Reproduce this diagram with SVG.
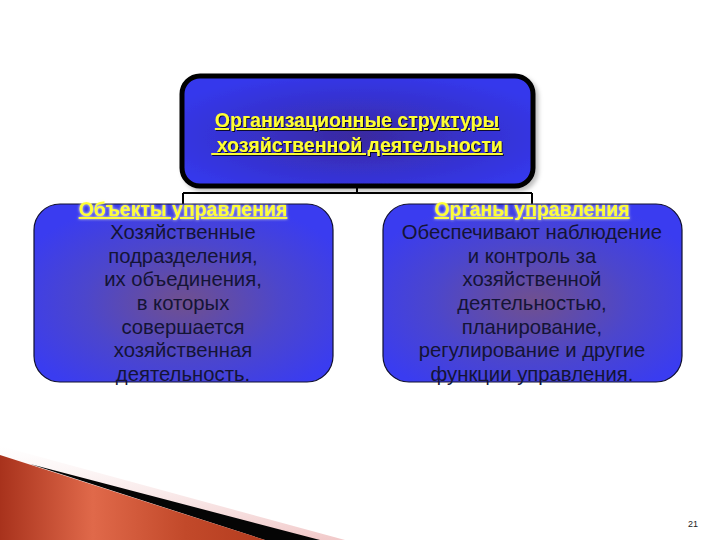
<svg xmlns="http://www.w3.org/2000/svg" width="720" height="540" viewBox="0 0 720 540">
<defs>
<radialGradient id="gBox" cx="50%" cy="55%" r="60%">
<stop offset="0" stop-color="#70508e"/>
<stop offset="0.55" stop-color="#4c46cc"/>
<stop offset="1" stop-color="#3a3cf0"/>
</radialGradient>
<radialGradient id="gTop" cx="50%" cy="55%" r="60%">
<stop offset="0" stop-color="#3a2a9e"/>
<stop offset="0.6" stop-color="#3632d2"/>
<stop offset="1" stop-color="#3538ec"/>
</radialGradient>
<linearGradient id="gRed" x1="0" y1="0" x2="1" y2="0">
<stop offset="0" stop-color="#a8321c"/>
<stop offset="0.35" stop-color="#e0694a"/>
<stop offset="0.7" stop-color="#c2492a"/>
<stop offset="1" stop-color="#b43c1e"/>
</linearGradient>
<linearGradient id="gPink" x1="0" y1="0" x2="0" y2="1">
<stop offset="0" stop-color="#f4d8d8" stop-opacity="0"/>
<stop offset="1" stop-color="#eebcbc" stop-opacity="0.8"/>
</linearGradient>
<filter id="shTop" x="-10%" y="-10%" width="125%" height="130%">
<feDropShadow dx="3" dy="3" stdDeviation="2" flood-color="#000" flood-opacity="0.25"/>
</filter>
<filter id="txtSh" x="-5%" y="-20%" width="110%" height="150%">
<feDropShadow dx="1" dy="1" stdDeviation="0.4" flood-color="#000" flood-opacity="0.8"/>
</filter>
<filter id="glow" x="-10%" y="-40%" width="120%" height="180%">
<feDropShadow dx="0" dy="0" stdDeviation="1.5" flood-color="#ffffcc" flood-opacity="0.9"/>
</filter>
</defs>
<style>
.ttl{font-family:"Liberation Sans",Arial,sans-serif;font-weight:bold;font-size:19.5px;fill:#ffff33;text-decoration:underline;text-anchor:middle}
.body{font-family:"Liberation Sans",Arial,sans-serif;font-size:20.3px;fill:#141436;text-anchor:middle}
.box{fill:url(#gBox);stroke:#101030;stroke-width:1.2}
.conn{fill:none;stroke:#000;stroke-width:2}
</style>
<rect width="720" height="540" fill="#fff"/>
<g id="decor">
<polygon points="0,446 345,540 0,540" fill="url(#gPink)"/>
<polygon points="30,464 320,540 265,540" fill="#050505"/>
<polygon points="0,455 265,540 0,540" fill="url(#gRed)"/>
</g>
<g id="connectors">
<path class="conn" d="M357,187 V193 M183,193 H532 M183,193 V206 M532,193 V206"/>
</g>
<g id="top">
<rect x="182" y="76" width="351" height="110" rx="18" fill="url(#gTop)" stroke="#000" stroke-width="5" filter="url(#shTop)"/>
<text class="ttl" x="357" y="127" filter="url(#txtSh)">Организационные структуры</text>
<text class="ttl" x="357" y="152" filter="url(#txtSh)" xml:space="preserve"> хозяйственной деятельности</text>
</g>
<g id="left">
<rect class="box" x="34" y="204" width="299" height="178" rx="26"/>
<text class="ttl" x="183" y="216" filter="url(#glow)">Объекты управления</text>
<text class="body" x="183"><tspan x="183" y="239">Хозяйственные</tspan><tspan x="183" y="263">подразделения,</tspan><tspan x="183" y="286">их объединения,</tspan><tspan x="183" y="310">в которых</tspan><tspan x="183" y="334">совершается</tspan><tspan x="183" y="357">хозяйственная</tspan><tspan x="183" y="381">деятельность.</tspan></text>
</g>
<g id="right">
<rect class="box" x="383" y="204" width="299" height="178" rx="26"/>
<text class="ttl" x="532" y="216" filter="url(#glow)">Органы управления</text>
<text class="body" x="532"><tspan x="532" y="239">Обеспечивают наблюдение</tspan><tspan x="532" y="263">и контроль за</tspan><tspan x="532" y="286">хозяйственной</tspan><tspan x="532" y="310">деятельностью,</tspan><tspan x="532" y="334">планирование,</tspan><tspan x="532" y="357">регулирование и другие</tspan><tspan x="532" y="381">функции управления.</tspan></text>
</g>
<text x="693" y="527" font-family="'Liberation Sans',Arial,sans-serif" font-size="9" fill="#222" text-anchor="middle">21</text>
</svg>
